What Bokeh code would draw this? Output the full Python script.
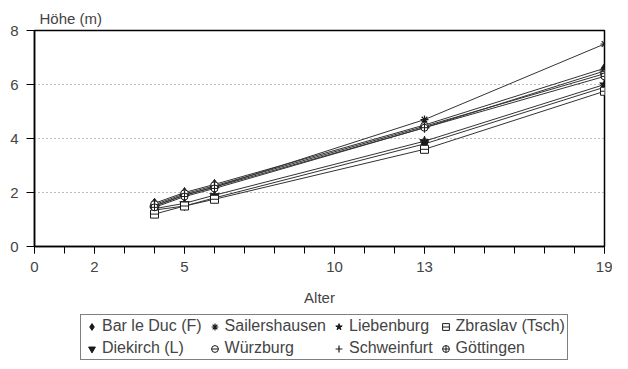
from bokeh.plotting import figure
from bokeh.models import FixedTicker, Legend, LegendItem, Range1d
from bokeh.layouts import column
from bokeh.embed import file_html
from bokeh.resources import INLINE

ages = [4, 5, 6, 13, 19]
x_tick_labels = [0, 2, 5, 10, 13, 19]
y_ticks = [0, 2, 4, 6, 8]

bar_le_duc = [1.6, 2.0, 2.3, 4.5, 6.6]
diekirch = [1.35, 1.5, 1.8, 3.8, 5.9]
sailershausen = [1.5, 1.9, 2.2, 4.7, 7.5]
wuerzburg = [1.55, 1.95, 2.25, 4.45, 6.4]
liebenburg = [1.4, 1.6, 1.9, 3.9, 6.0]
schweinfurt = [1.5, 1.9, 2.2, 4.4, 6.5]
zbraslav = [1.2, 1.5, 1.75, 3.6, 5.75]
goettingen = [1.45, 1.85, 2.15, 4.4, 6.3]

FONT = "Liberation Sans"
FS = "15px"

p = figure(frame_width=570, frame_height=216, output_backend="svg", toolbar_location=None,
           x_range=Range1d(0, 19), y_range=Range1d(0, 8),
           min_border_left=34, min_border_right=8, min_border_top=30, min_border_bottom=0)
p.title.text = "Höhe (m)"
p.title.text_font = FONT
p.title.text_font_size = FS
p.title.text_font_style = "normal"
p.title.align = "left"
p.title.offset = 5
p.title.standoff = 8

p.outline_line_color = "black"
p.outline_line_width = 1.5
p.xgrid.grid_line_color = None
p.ygrid.grid_line_color = "#777777"
p.ygrid.grid_line_dash = "1 3"
p.ygrid.grid_line_width = 1

xa = p.xaxis[0]
xa.ticker = FixedTicker(ticks=x_tick_labels, minor_ticks=list(range(0, 20)))
xa.major_tick_out = 7
xa.major_tick_in = 0
xa.minor_tick_out = 7
xa.minor_tick_in = 0
xa.major_tick_line_color = "black"
xa.minor_tick_line_color = "black"
xa.axis_line_width = 1.5
xa.major_label_standoff = 8
xa.major_label_text_font = FONT
xa.major_label_text_font_size = FS
xa.axis_label = "Alter"
xa.axis_label_text_font = FONT
xa.axis_label_text_font_size = FS
xa.axis_label_text_font_style = "normal"
xa.axis_label_standoff = 14

ya = p.yaxis[0]
ya.ticker = FixedTicker(ticks=y_ticks, minor_ticks=[])
ya.major_tick_out = 8
ya.major_tick_in = 0
ya.axis_line_width = 1.5
ya.major_label_standoff = 8
ya.major_label_text_font = FONT
ya.major_label_text_font_size = FS

# separate strip holding only the legend (its glyphs lie outside its ranges)
lg = figure(width=612, height=52, output_backend="svg", toolbar_location=None,
            x_range=Range1d(100, 101), y_range=Range1d(100, 101),
            x_axis_location=None, y_axis_location=None,
            min_border=0, outline_line_color=None)
lg.grid.visible = False

LC = "#333333"
MC = "#1a1a1a"
items = []

def add(name, ys, markers):
    p.line(ages, ys, line_color=LC, line_width=1)
    g = []
    for m, kw in markers:
        p.scatter(ages, ys, marker=m, **kw)
        g.append(lg.scatter(ages, ys, marker=m, **kw))
    items.append(LegendItem(label=name, renderers=g))

add("Bar le Duc (F)", bar_le_duc, [("diamond", dict(size=10, fill_color=MC, line_color=MC))])
add("Diekirch (L)", diekirch, [("inverted_triangle", dict(size=8, fill_color=MC, line_color=MC))])
add("Sailershausen", sailershausen, [("asterisk", dict(size=8, line_color=MC, line_width=1.2))])
add("Würzburg", wuerzburg, [("circle", dict(size=8, fill_color="white", line_color=MC)),
                            ("dash", dict(size=8, line_color=MC))])
add("Liebenburg", liebenburg, [("star", dict(size=10, fill_color=MC, line_color=MC))])
add("Schweinfurt", schweinfurt, [("cross", dict(size=10, line_color=MC, line_width=1.2))])
add("Zbraslav (Tsch)", zbraslav, [("square", dict(size=8, fill_color="white", line_color=MC)),
                                  ("dash", dict(size=8, line_color=MC))])
add("Göttingen", goettingen, [("circle_cross", dict(size=7, fill_color="white", line_color=MC))])

legend = Legend(items=items, orientation="vertical", nrows=2,
                label_text_font=FONT, label_text_font_size="16px",
                glyph_width=17, glyph_height=17, label_standoff=2, spacing=4,
                label_height=17, padding=2, margin=0,
                border_line_color="black", border_line_width=1.2,
                location=(46, 0))
lg.add_layout(legend, "center")

layout = column(p, lg, spacing=0)
open("out.html", "w").write(file_html(layout, INLINE))
